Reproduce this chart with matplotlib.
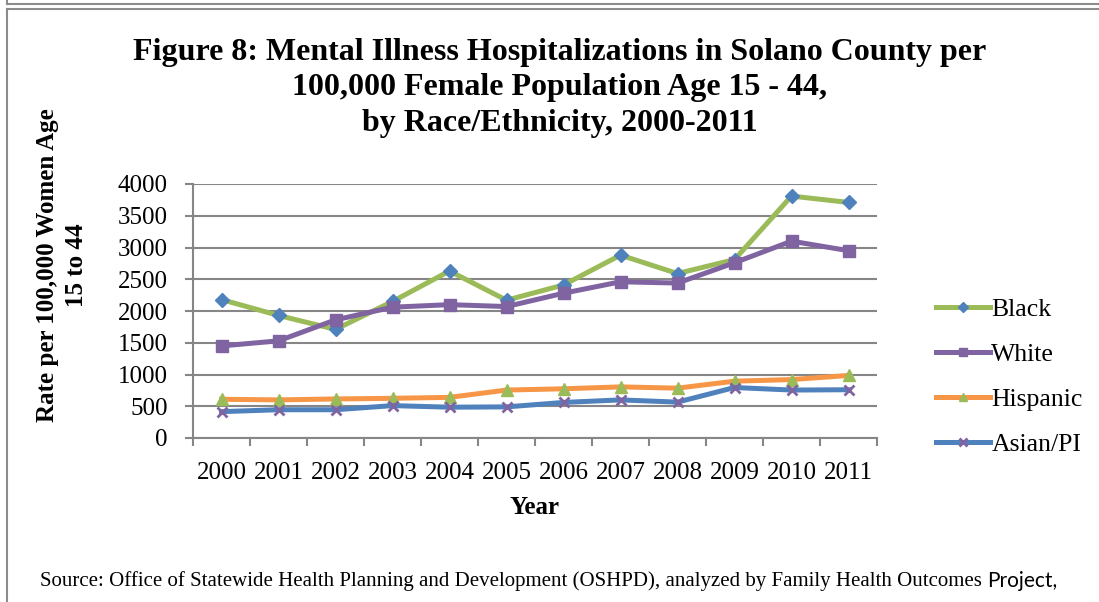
"""
Mental illness hospitalizations, Solano County (Figure 8 remake)
"""

### Import modules
import numpy as np
import matplotlib.pyplot as plt
from matplotlib.lines import Line2D

### Data
years = ['2000','2001','2002','2003','2004','2005',
         '2006','2007','2008','2009','2010','2011']
black = [2180,1930,1710,2150,2630,2170,2410,2880,2590,2810,3810,3710]
white = [1450,1530,1860,2060,2100,2070,2280,2460,2440,2760,3100,2950]
hispanic = [610,600,615,625,640,755,775,805,785,895,920,985]
asian = [415,445,445,510,485,490,560,600,565,795,755,760]
labels = ['Black','White','Hispanic','Asian/PI']
yticks = np.arange(0,4001,500)

### Colours (line, marker) as in the original Excel chart
green = '#9BBB59'
blue = '#4F81BD'
purple = '#8064A2'
orange = '#F79646'
styles = [(green,blue,'D',7),(purple,purple,'s',8),
          (orange,green,'^',8),(blue,purple,'x',7)]
series = [black,white,hispanic,asian]

plt.rc('font',family='Liberation Serif')

W,H = 1099,602
fig = plt.figure(figsize=(W/100,H/100),dpi=100)
ax = fig.add_axes([193/W,1-438/H,684/W,254/H])

x = np.arange(len(years))
handles = []
for vals,(lc,mc,mk,ms),lab in zip(series,styles,labels):
    ax.plot(x,vals,color=lc,lw=3.6,marker=mk,markersize=ms,
            markerfacecolor=mc,markeredgecolor=mc,
            markeredgewidth=2 if mk=='x' else 1,
            solid_joinstyle='round',label=lab,zorder=3)
    handles.append(Line2D([0],[0],color=lc,lw=3.6,marker=mk,
                          markersize=ms*0.75,markerfacecolor=mc,
                          markeredgecolor=mc,
                          markeredgewidth=2 if mk=='x' else 1))

### Axes
ax.set_xlim(-0.5,11.5)
ax.set_ylim(0,4000)
ax.set_yticks(yticks)
ax.set_yticklabels([str(v) for v in yticks],fontsize=18)
ax.set_xticks(x)
ax.set_xticklabels(years,fontsize=18)
ax.set_xticks(np.arange(-0.5,12,1),minor=True)
ax.tick_params(axis='x',which='major',length=0,pad=17)
ax.tick_params(axis='x',which='minor',length=6,width=1.5,color='#868686')
ax.tick_params(axis='y',length=6,width=1.5,color='#868686',pad=12)
ax.grid(axis='y',color='#868686',lw=1.5)
ax.set_axisbelow(True)
for s in ['top','right']:
    ax.spines[s].set_visible(False)
for s in ['left','bottom']:
    ax.spines[s].set_color('#868686')
    ax.spines[s].set_linewidth(1.5)

### Texts
fig.text(560/W,1-88/H,
         'Figure 8: Mental Illness Hospitalizations in Solano County per\n'
         '100,000 Female Population Age 15 - 44,\n'
         'by Race/Ethnicity, 2000-2011',
         ha='center',va='center',fontsize=23,fontweight='bold',
         linespacing=1.3)
fig.text(62/W,1-265/H,'Rate per 100,000 Women Age\n15 to 44',
         rotation=90,ha='center',va='center',fontsize=18,
         fontweight='bold',linespacing=1.3)
fig.text(535/W,1-508/H,'Year',ha='center',va='center',
         fontsize=18,fontweight='bold')
src = fig.text(40/W,1-581/H,
               'Source: Office of Statewide Health Planning and Development '
               '(OSHPD), analyzed by Family Health Outcomes ',
               ha='left',va='center',fontsize=15)
fig.canvas.draw()
bb = src.get_window_extent()
fig.text(bb.x1/W,1-581/H,'Project,',ha='left',va='center',
         fontsize=15,family='Lato')

fig.legend(handles,labels,loc='center left',
           bbox_to_anchor=(913/W,1-377/H),frameon=False,
           fontsize=18.5,handlelength=2.1,handletextpad=0.05,
           labelspacing=0.85)

### Frame lines
fig.add_artist(Line2D([7/W,1],[1-4/H,1-4/H],color='#8c8c8c',lw=1.5))
fig.add_artist(Line2D([7/W,1],[1-9/H,1-9/H],color='#8c8c8c',lw=1.5))
fig.add_artist(Line2D([7/W,7/W],[1,1-4/H],color='#8c8c8c',lw=1.5))
fig.add_artist(Line2D([7/W,7/W],[0,1-9/H],color='#8c8c8c',lw=1.5))

plt.savefig('out.png',dpi=100)
